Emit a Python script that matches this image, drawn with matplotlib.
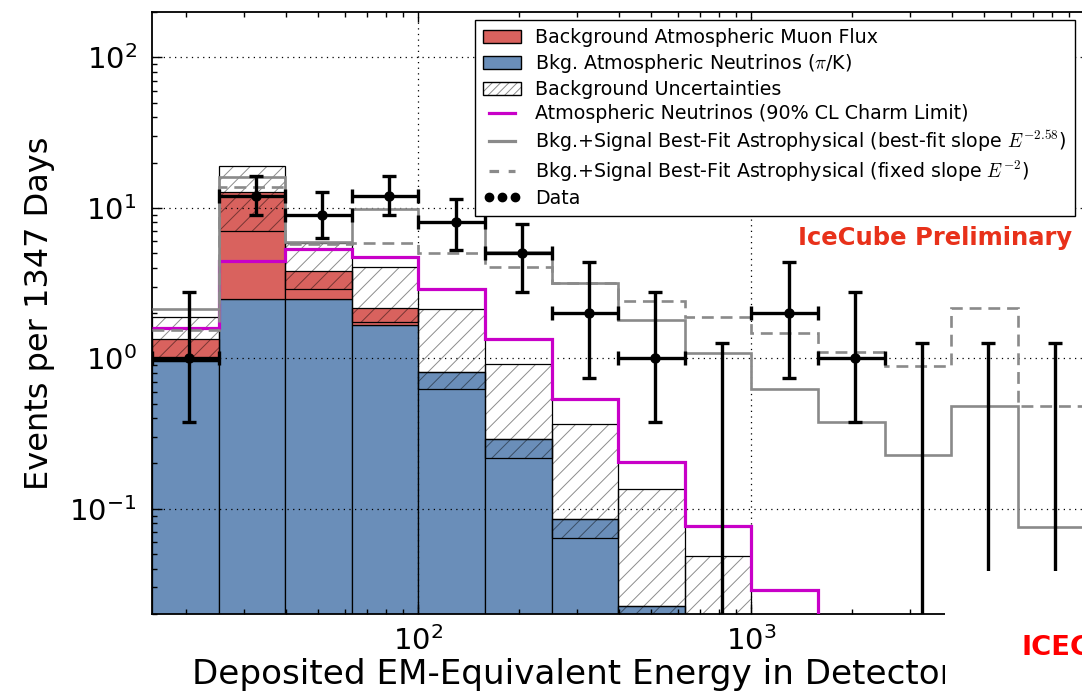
import numpy as np
import matplotlib
matplotlib.use('Agg')
import matplotlib.pyplot as plt
from matplotlib.patches import Patch, Rectangle
from matplotlib.lines import Line2D
from matplotlib.legend_handler import HandlerTuple

plt.rcParams['font.family'] = ['DejaVu Sans']
plt.rcParams['mathtext.fontset'] = 'cm'
plt.rcParams['axes.unicode_minus'] = False
plt.rcParams['hatch.linewidth'] = 0.7

# ---------------- data ----------------
bin_edges = [15.85, 25.12, 39.81, 63.10, 100.0, 158.5, 251.2, 398.1,
             631.0, 1000.0, 1585.0, 2512.0, 3981.0, 6310.0, 10000.0]
atm_nu_pik = [0.96, 2.47, 2.47, 1.66, 0.815, 0.29, 0.085, 0.0224,
              0.006, 0.002, 0.001, 0.0005, 0.0003, 0.0002]
atm_muon = [0.38, 10.2, 1.33, 0.49, 0.0, 0.0, 0.0, 0.0,
            0.0, 0.0, 0.0, 0.0, 0.0, 0.0]
bkg_unc_low = [0.97, 7.0, 2.89, 1.73, 0.622, 0.217, 0.0637, 0.0168,
               0.0045, 0.0015, 0.0007, 0.0004, 0.0002, 0.0001]
bkg_unc_high = [1.89, 19.0, 5.85, 4.06, 2.12, 0.917, 0.366, 0.135,
                0.0486, 0.015, 0.005, 0.002, 0.001, 0.0005]
charm_limit = [1.59, 4.43, 5.3, 4.73, 2.87, 1.34, 0.537, 0.204,
               0.0769, 0.0289, 0.01, 0.004, 0.002, 0.001]
fit_best_slope = [2.13, 16.1, 5.9, 9.78, 8.1, 5.1, 3.15, 1.80,
                  1.09, 0.628, 0.377, 0.227, 0.482, 0.0757]
fit_fixed_slope = [1.54, 13.7, 5.75, 5.81, 4.99, 4.05, 3.18, 2.40,
                   1.87, 1.47, 1.106, 0.893, 2.15, 0.482]
data_counts = [1, 12, 9, 12, 8, 5, 2, 1, 0, 2, 1, 0, 0, 0]
data_low = [0.377, 8.96, 6.33, 8.96, 5.25, 2.77, 0.736, 0.377,
            0.0, 0.736, 0.377, 0.0, 0.0, 0.0]
data_high = [2.745, 16.3, 12.7, 16.3, 11.4, 7.8, 4.34, 2.745,
             1.27, 4.34, 2.745, 1.27, 1.27, 1.27]

x_ticks = [1e2, 1e3, 1e4]
x_tick_labels = [r'$\mathdefault{10^{2}}$', r'$\mathdefault{10^{3}}$', '']

labels = ["Background Atmospheric Muon Flux",
          r"Bkg. Atmospheric Neutrinos ($\pi$/K)",
          "Background Uncertainties",
          "Atmospheric Neutrinos (90% CL Charm Limit)",
          r"Bkg.+Signal Best-Fit Astrophysical (best-fit slope $E^{-2.58}$)",
          r"Bkg.+Signal Best-Fit Astrophysical (fixed slope $E^{-2}$)",
          "Data"]

RED = '#d9625e'
BLUE = '#6a8eb9'
MAG = '#c800c8'
GREY = '#8a8a8a'
HATCHC = (0, 0, 0, 0.45)

# ---------------- figure ----------------
W, H = 1082, 696
fig = plt.figure(figsize=(W / 100, H / 100), dpi=100)
ax_left, ax_right, ax_top, ax_bottom = 152, 1151, 12.2, 613.8
ax = fig.add_axes([ax_left / W, 1 - ax_bottom / H,
                   (ax_right - ax_left) / W, (ax_bottom - ax_top) / H])
ax.set_xscale('log')
ax.set_yscale('log')
ax.set_xlim(10 ** 1.2, 10 ** 4.2)
ax.set_ylim(0.02, 200)

edges = np.array(bin_edges)
left = edges[:-1]
width = np.diff(edges)
centers = 0.5 * (edges[:-1] + edges[1:])
nu = np.array(atm_nu_pik)
mu = np.array(atm_muon)
lo = np.array(bkg_unc_low)
hi = np.array(bkg_unc_high)
floor = 1e-4

# stacked background
ax.bar(left, nu - floor, width, bottom=floor, align='edge',
       facecolor=BLUE, edgecolor='k', linewidth=0.9, zorder=1)
ax.bar(left, mu, width, bottom=nu, align='edge',
       facecolor=RED, edgecolor='k', linewidth=0.9, zorder=1.1)
# uncertainty band: hatch + outline
ax.bar(left, hi - lo, width, bottom=lo, align='edge',
       facecolor='none', edgecolor=HATCHC, hatch='//', linewidth=0, zorder=1.2)
ax.bar(left, hi - lo, width, bottom=lo, align='edge',
       facecolor='none', edgecolor='k', linewidth=0.9, zorder=1.3)

# model lines
ax.stairs(charm_limit, edges, baseline=None, color=MAG, lw=2.3, zorder=3)
ax.stairs(fit_best_slope, edges, baseline=None, color=GREY, lw=1.9, zorder=3)
ax.stairs(fit_fixed_slope, edges, baseline=None, color=GREY, lw=1.9,
          linestyle=(0, (4.5, 2.6)), zorder=3)

# data
counts = np.array(data_counts, dtype=float)
dlo = np.array(data_low)
dhi = np.array(data_high)
nz = counts > 0
ax.errorbar(centers[nz], counts[nz],
            xerr=[centers[nz] - left[nz], edges[1:][nz] - centers[nz]],
            yerr=[counts[nz] - dlo[nz], dhi[nz] - counts[nz]],
            fmt='o', color='k', ms=6.5, elinewidth=2.4, capsize=5,
            capthick=2.4, zorder=4)
z = ~nz
ax.errorbar(centers[z], dhi[z], yerr=[dhi[z] - floor, np.zeros(z.sum())],
            fmt='none', ecolor='k', elinewidth=2.4, capsize=5,
            capthick=2.4, zorder=4)

# grid, ticks, spines
ax.set_xticks(x_ticks)
ax.set_xticklabels(x_tick_labels)
ax.set_axisbelow(False)
ax.grid(True, which='major', color='k', linestyle=(0, (1, 3.5)), lw=0.9)
ax.tick_params(which='both', direction='in', top=True, right=True,
               labelsize=21, width=1.0)
ax.tick_params(which='major', length=7, pad=9)
ax.tick_params(which='minor', length=3.5)
ax.tick_params(axis='y', which='major', pad=11)
for s in ax.spines.values():
    s.set_linewidth(1.3)

ax.set_ylabel('Events per 1347 Days', fontsize=23, ha='center', va='center')
ax.yaxis.set_label_coords((40 - ax_left) / (ax_right - ax_left), 0.5)
ax.set_xlabel('Deposited EM-Equivalent Energy in Detector', fontsize=24.6,
              ha='left', va='baseline')
ax.xaxis.set_label_coords((192 - ax_left) / (ax_right - ax_left),
                          (ax_bottom - 684) / (ax_bottom - ax_top))

# legend
handles = [Patch(facecolor=RED, edgecolor='k', lw=1),
           Patch(facecolor=BLUE, edgecolor='k', lw=1),
           (Patch(facecolor='white', edgecolor=HATCHC, hatch='////', lw=0),
            Patch(facecolor='none', edgecolor='k', lw=1)),
           Line2D([], [], color=MAG, lw=2.3),
           Line2D([], [], color=GREY, lw=2.3),
           Line2D([], [], color=GREY, lw=2.3, linestyle=(0, (3, 3))),
           Line2D([], [], ls='none', marker='o', color='k', ms=6)]
leg = ax.legend(handles, labels, loc='upper left',
                bbox_to_anchor=(475 / W, 1 - 20 / H),
                bbox_transform=fig.transFigure, fontsize=13.7,
                frameon=True, fancybox=False, edgecolor='k', framealpha=1,
                borderaxespad=0, handlelength=2.0, handletextpad=0.75,
                labelspacing=0.27, borderpad=0.42, numpoints=3,
                handler_map={tuple: HandlerTuple(ndivide=1, pad=0)})
leg.get_frame().set_linewidth(1.0)
leg.set_zorder(6)

fig.text(798 / W, 1 - 245 / H, 'IceCube Preliminary', color='#e8311a',
         fontweight='bold', fontsize=17.5, ha='left', va='baseline')

# white panel over lower-right corner (as in the reference)
fig.patches.append(Rectangle((945 / W, 0), 1 - 945 / W, (H - 571) / H,
                             transform=fig.transFigure, facecolor='white',
                             edgecolor='none', zorder=10))
fig.text(1021 / W, 1 - 655 / H, 'ICEC', color='red', fontweight='bold',
         fontsize=19.7, ha='left', va='baseline', zorder=11)

fig.savefig('out.png', dpi=100)
